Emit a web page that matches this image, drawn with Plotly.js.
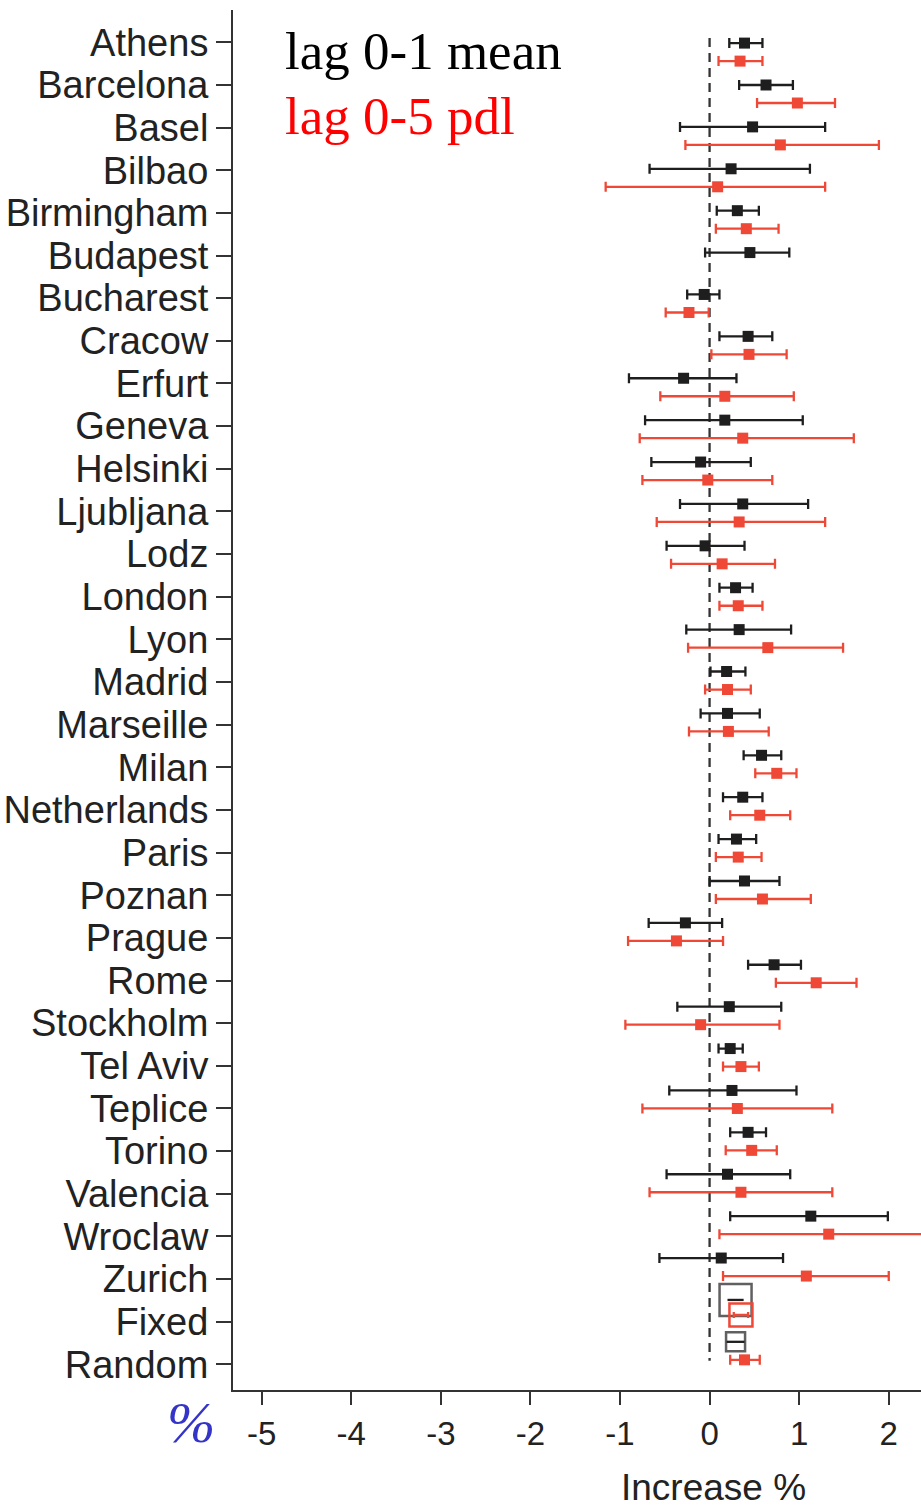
<!DOCTYPE html>
<html>
<head>
<meta charset="utf-8">
<script src="https://cdn.plot.ly/plotly-3.0.1.min.js"></script>
<style>html,body{margin:0;padding:0;background:#fff;}#chart{width:921px;height:1508px;}</style>
</head>
<body>
<div id="chart"></div>
<script>
// ---- data ----
const cities = ["Athens","Barcelona","Basel","Bilbao","Birmingham","Budapest","Bucharest","Cracow","Erfurt","Geneva","Helsinki","Ljubljana","Lodz","London","Lyon","Madrid","Marseille","Milan","Netherlands","Paris","Poznan","Prague","Rome","Stockholm","Tel Aviv","Teplice","Torino","Valencia","Wroclaw","Zurich"];
const pooledLabels = ["Fixed","Random"];

// lag 0-1 mean (black): estimate, lower, upper (% increase)
const meanEst = [0.39,0.63,0.48,0.24,0.31,0.45,-0.06,0.43,-0.29,0.17,-0.10,0.37,-0.05,0.29,0.33,0.19,0.20,0.58,0.37,0.30,0.39,-0.27,0.72,0.22,0.23,0.25,0.43,0.20,1.13,0.13];
const meanLo  = [0.22,0.33,-0.33,-0.67,0.08,-0.05,-0.25,0.11,-0.90,-0.72,-0.65,-0.33,-0.48,0.11,-0.26,0.01,-0.10,0.38,0.15,0.10,0.00,-0.68,0.43,-0.36,0.10,-0.45,0.23,-0.48,0.23,-0.56];
const meanHi  = [0.59,0.93,1.29,1.12,0.55,0.89,0.11,0.70,0.30,1.04,0.46,1.10,0.39,0.48,0.91,0.40,0.56,0.80,0.59,0.52,0.78,0.14,1.02,0.80,0.37,0.97,0.63,0.90,1.99,0.82];

// lag 0-5 pdl (red): estimate, lower, upper (% increase); Budapest not shown
const pdlEst = [0.34,0.98,0.79,0.09,0.41,null,-0.23,0.44,0.17,0.37,-0.02,0.33,0.14,0.32,0.65,0.20,0.21,0.75,0.56,0.32,0.59,-0.37,1.19,-0.10,0.35,0.31,0.47,0.35,1.33,1.08];
const pdlLo  = [0.10,0.53,-0.27,-1.16,0.07,null,-0.49,0.02,-0.55,-0.78,-0.75,-0.59,-0.43,0.11,-0.24,-0.05,-0.23,0.51,0.23,0.07,0.07,-0.91,0.74,-0.94,0.15,-0.75,0.18,-0.67,0.11,0.15];
const pdlHi  = [0.59,1.40,1.89,1.29,0.77,null,-0.01,0.86,0.94,1.61,0.70,1.29,0.73,0.59,1.49,0.46,0.66,0.97,0.90,0.58,1.13,0.15,1.64,0.78,0.55,1.37,0.75,1.37,2.55,2.00];

// pooled estimates: [Fixed, Random]
const poolMeanEst = [0.29,0.29];
const poolMeanLo  = [0.20,0.19];
const poolMeanHi  = [0.38,0.39];
const poolPdlEst = [0.35,0.39];
const poolPdlLo  = [0.27,0.23];
const poolPdlHi  = [0.43,0.56];

const xTicks = [-5,-4,-3,-2,-1,0,1,2];

// ---- layout helpers ----
const BLACK = "#1e1e1e", RED = "#ef4836";
const redOff = 0.43;
const idx = cities.map((c,i)=>i);
const nC = cities.length;
const allLabels = cities.concat(pooledLabels);
const tickPos = allLabels.map((c,i)=> i*1.018 - 0.02);

function errs(est, lo, hi){
  return {
    plus: est.map((e,i)=> e==null?null: hi[i]-e),
    minus: est.map((e,i)=> e==null?null: e-lo[i])
  };
}
const eM = errs(meanEst, meanLo, meanHi);
const eP = errs(pdlEst, pdlLo, pdlHi);
const ePM = errs(poolMeanEst, poolMeanLo, poolMeanHi);
const ePP = errs(poolPdlEst, poolPdlLo, poolPdlHi);

const traces = [
  {
    type:"scatter", mode:"markers", x: meanEst, y: idx,
    marker:{symbol:"square", size:11, color:BLACK},
    error_x:{type:"data", symmetric:false, array:eM.plus, arrayminus:eM.minus, color:BLACK, thickness:2.3, width:5},
    hoverinfo:"skip", showlegend:false
  },
  {
    type:"scatter", mode:"markers", x: pdlEst, y: idx.map(i=>i+redOff),
    marker:{symbol:"square", size:11, color:RED},
    error_x:{type:"data", symmetric:false, array:eP.plus, arrayminus:eP.minus, color:RED, thickness:2.3, width:5},
    hoverinfo:"skip", showlegend:false
  },
  // pooled: Fixed black (big open box), Random black (small open box)
  {
    type:"scatter", mode:"markers", x: poolMeanEst, y: [nC, nC+1],
    marker:{symbol:"square", size:[32,19], color:"rgba(0,0,0,0)", line:{width:2.5, color:BLACK}},
    error_x:{type:"data", symmetric:false, array:ePM.plus, arrayminus:ePM.minus, color:BLACK, thickness:2.3, width:0},
    hoverinfo:"skip", showlegend:false
  },
  // pooled Fixed red (open box)
  {
    type:"scatter", mode:"markers", x: [poolPdlEst[0]], y: [nC+0.36],
    marker:{symbol:"square", size:23, color:"rgba(0,0,0,0)", line:{width:2.5, color:RED}},
    error_x:{type:"data", symmetric:false, array:[ePP.plus[0]], arrayminus:[ePP.minus[0]], color:RED, thickness:2.3, width:3},
    hoverinfo:"skip", showlegend:false
  },
  // pooled Random red (filled)
  {
    type:"scatter", mode:"markers", x: [poolPdlEst[1]], y: [nC+1+redOff],
    marker:{symbol:"square", size:11, color:RED},
    error_x:{type:"data", symmetric:false, array:[ePP.plus[1]], arrayminus:[ePP.minus[1]], color:RED, thickness:2.3, width:5},
    hoverinfo:"skip", showlegend:false
  }
];

const SANS = "Liberation Sans, Arial, sans-serif";
const SERIF = "Liberation Serif, Times New Roman, serif";

const layout = {
  width:921, height:1508,
  margin:{l:233, r:0, t:10, b:118},
  paper_bgcolor:"#ffffff", plot_bgcolor:"#ffffff",
  showlegend:false,
  xaxis:{
    range:[-5.32, 2.36], tickvals:xTicks, ticktext:xTicks.map(String),
    showgrid:false, zeroline:false, showline:true, linecolor:"#333", linewidth:2,
    ticks:"outside", ticklen:13, tickwidth:2, tickcolor:"#333",
    tickfont:{family:SANS, size:33, color:"#222"}
  },
  yaxis:{
    range:[32.15, -0.79], tickvals:tickPos, ticktext:allLabels,
    showgrid:false, zeroline:false, showline:true, linecolor:"#333", linewidth:2,
    ticks:"outside", ticklen:15, tickwidth:2, tickcolor:"#333",
    tickfont:{family:SANS, size:38, color:"#222"}
  },
  shapes:[
    {type:"line", xref:"x", yref:"y", x0:0, x1:0, y0:-0.12, y1:31.45,
     line:{color:"#333", width:2.3, dash:"9px,6px"}, layer:"below"}
  ],
  annotations:[
    {xref:"paper", yref:"paper", x:0.073, y:0.9705, xanchor:"left", yanchor:"middle",
     text:"lag 0-1 mean", showarrow:false, font:{family:SERIF, size:53, color:"#000"}},
    {xref:"paper", yref:"paper", x:0.073, y:0.9235, xanchor:"left", yanchor:"middle",
     text:"lag 0-5 pdl", showarrow:false, font:{family:SERIF, size:53, color:"#ff0000"}},
    {xref:"paper", yref:"paper", x:-0.061, y:-0.0232, xanchor:"center", yanchor:"middle",
     text:"<i>%</i>", showarrow:false, font:{family:SERIF, size:58, color:"#3434c8"}},
    {xref:"x", yref:"paper", x:0.04, y:-0.0703, xanchor:"center", yanchor:"middle",
     text:"Increase %", showarrow:false, font:{family:SANS, size:37, color:"#222"}}
  ]
};

Plotly.newPlot("chart", traces, layout, {staticPlot:true, displayModeBar:false});
</script>
</body>
</html>
